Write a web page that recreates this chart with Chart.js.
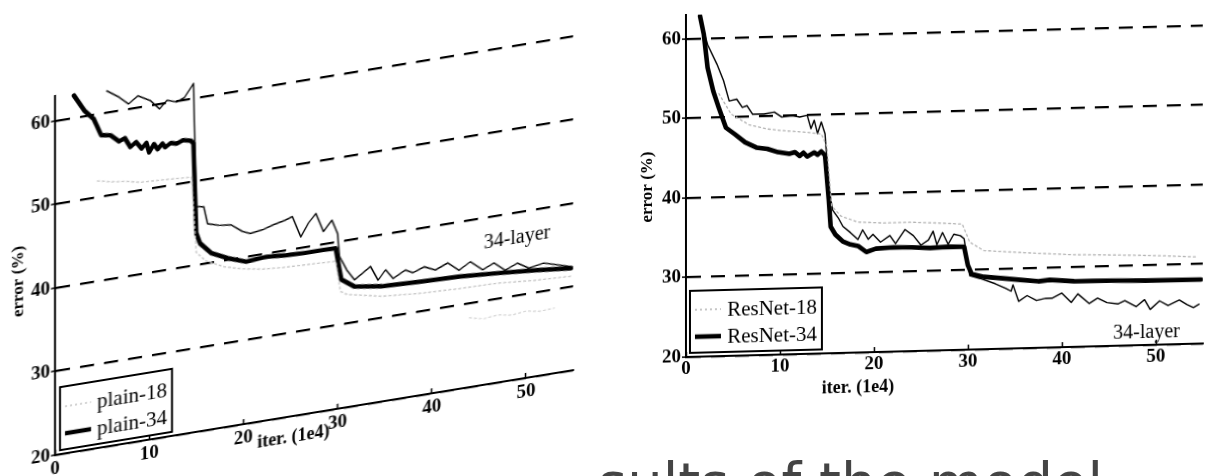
<!DOCTYPE html>
<html>
<head>
<meta charset="utf-8">
<script src="https://cdn.jsdelivr.net/npm/chart.js@4.4.1/dist/chart.umd.min.js"></script>
<style>
  html, body { margin: 0; padding: 0; background: #fff; width: 1215px; height: 476px; overflow: hidden; }
  /* the scanned left panel is sheared, the right one only a little */
  #plainChart { position: absolute; left: 0; top: 0; transform-origin: 55px 0; transform: skewY(-9.3deg); }
  #resChart { position: absolute; left: 600px; top: 0; transform-origin: 86px 0; transform: skewY(-1.5deg); }
  #caption { position: absolute; left: 598px; top: 455px; width: 617px; height: 21px; overflow: hidden;
             font: 56px 'DejaVu Sans', sans-serif; line-height: 56px; white-space: nowrap; color: #444; }
</style>
</head>
<body>
<canvas id="plainChart" width="600" height="500"></canvas>
<canvas id="resChart" width="615" height="420"></canvas>
<div id="caption"><span id="capText">results of the model</span></div>
<script>
// valeurs : [itération (1e4), erreur (%)]
const plain18Val = [[4.5,52.0],[6,51.6],[7.5,51.4],[9,51.0],[10.5,50.9],[12,50.8],[14.5,50.6],[15.0,41.5],[16,40.3],[18,39.2],
  [20,38.6],[22,38.2],[24,38.0],[26,37.9],[28,37.8],[29.8,37.7],[30.3,34.0],[31,33.5],[34.7,32.6],[38.8,32.2],[42.9,32.0],
  [47,31.9],[51,31.5],[54.8,31.3]];
const plain18Train = [[44,28.3],[45.5,27.9],[47,28.1],[48.5,27.8],[50,28.0],[51.5,27.7],[53,27.8]];
const plain34Train = [[5.5,62.6],[6.8,61.6],[7.8,60.6],[8.8,61.4],[10.1,60.6],[11.1,59.4],[11.9,60.3],[12.9,59.9],[13.75,60.3],
  [14.6,61.6],[14.7,61.8],[15.0,47.0],[15.8,46.8],[16.2,44.7],[17.4,44.3],[18.7,44.1],[19.9,43.1],[20.7,42.7],[22.0,42.9],
  [23.2,43.3],[24.4,43.6],[25.2,43.9],[26.1,41.3],[26.9,42.8],[27.7,43.8],[28.5,41.5],[29.4,42.7],[30.0,41.0],[30.2,38.2],
  [31.0,36.4],[31.8,35.1],[32.6,35.7],[33.5,36.4],[34.3,34.6],[35.1,35.7],[35.9,34.5],[37.2,35.3],[38.0,34.8],[39.2,35.3],
  [40.4,34.7],[41.7,35.3],[42.9,34.2],[44.1,35.0],[45.4,33.8],[46.6,34.4],[47.8,33.3],[49.1,33.9],[50.3,33.1],[51.9,33.4],
  [54.8,32.45]];
const plain34Val = [[2.0,62.7],[3.1,60.7],[4.1,59.5],[4.9,57.4],[5.9,57.2],[6.8,56.3],[7.4,56.6],[8.0,55.4],[8.6,55.9],
  [9.2,55.0],[9.7,55.6],[10.0,54.4],[10.5,55.3],[10.9,54.6],[11.4,55.2],[11.7,54.7],[12.3,55.1],[12.9,54.9],[13.6,55.2],
  [14.4,55.0],[14.7,54.6],[15.0,43.8],[15.4,42.5],[16.6,41.1],[18.3,40.2],[20.3,39.4],[22.4,39.6],[24.4,39.4],[26.5,39.3],
  [28.5,39.3],[29.8,39.25],[30.4,35.4],[31.8,34.3],[34.7,33.8],[38.8,33.6],[42.9,33.45],[47.0,33.1],[51.1,32.7],[54.8,32.25]];

const res18Val = [[3.5,53.0],[4.8,50.4],[6.7,49.0],[8.65,48.4],[10.6,48.1],[12.5,47.9],[14.4,47.6],[15.0,46.0],[15.5,38.5],
  [16.5,37.2],[18.3,36.4],[21,36.2],[24,36.2],[27,36.0],[29.4,35.8],[30.2,33.5],[31.7,32.4],[36,32.0],[41,31.6],[46,31.4],
  [50,31.2],[54.4,30.9]];
const res34Train = [[1.5,62.6],[2.3,59.2],[3.3,56.7],[4.0,54.6],[4.6,52.05],[5.4,52.25],[6.0,51.2],[6.5,51.4],[7.1,50.3],
  [8.3,50.3],[9.4,50.5],[10.2,49.85],[11.3,50.0],[12.1,49.8],[12.9,50.0],[13.3,48.3],[13.65,49.35],[14.0,47.65],[14.4,49.1],
  [14.8,47.6],[15.2,40.9],[15.6,38.0],[16.2,37.0],[16.7,35.9],[17.5,35.1],[18.3,34.2],[18.8,35.4],[19.4,34.2],[19.9,34.8],
  [20.7,33.8],[21.7,34.6],[22.3,33.55],[23.3,35.3],[24.2,34.5],[25.0,33.3],[25.8,33.9],[26.3,35.0],[26.7,33.3],[27.3,34.8],
  [27.9,33.3],[28.5,34.55],[29.2,34.35],[29.6,33.95],[30.2,29.3],[31.3,28.9],[32.9,28.2],[34.0,27.6],[34.6,27.2],[34.8,28.0],
  [35.4,25.9],[36.3,26.6],[37.3,25.95],[38.3,26.2],[39.0,26.2],[40.0,26.8],[41.0,25.6],[41.7,26.65],[42.9,25.4],[43.8,26.05],
  [44.8,25.45],[46.0,25.25],[46.7,25.65],[47.9,24.85],[48.8,25.7],[49.4,24.45],[50.4,25.5],[51.3,24.9],[52.5,25.55],
  [53.3,24.95],[54.0,24.55],[54.6,24.95]];
const res34Val = [[1.5,62.8],[1.9,60.5],[2.3,56.3],[2.9,53.35],[3.5,51.2],[4.25,48.7],[5.2,47.85],[6.3,46.8],[7.5,46.1],
  [8.65,45.9],[9.8,45.45],[11.0,45.2],[11.6,45.4],[12.1,44.9],[12.5,45.3],[12.9,44.8],[13.65,45.3],[14.0,45.0],[14.4,45.4],
  [14.8,44.9],[15.2,39.3],[15.4,35.9],[15.9,34.9],[16.7,34.0],[17.5,33.6],[18.3,33.4],[19.2,32.6],[20.2,33.0],[22.1,33.1],
  [24.0,33.05],[26.0,32.9],[27.9,33.0],[29.6,32.95],[30.0,30.6],[30.4,29.5],[31.7,29.1],[33.7,28.85],[35.6,28.6],[37.5,28.35],
  [38.7,28.5],[41.3,28.25],[45.2,28.2],[49.0,28.1],[54.8,28.05]];

const yMin = 20, yMax = 63, yStep = 10;
const xMin = 0, xMax = 55, xStep = 10;
const yTitle = 'error (%)';
const xTitle = 'iter. (1e4)';
const curveNote = '34-layer';

const serif = "'Liberation Serif', 'Times New Roman', serif";
const pts = arr => arr.map(p => ({ x: p[0], y: p[1] }));

// textes libres (titre de l'axe x, "34-layer") placés en coordonnées de données
const notesPlugin = {
  id: 'notes',
  afterDraw(chart, args, opts) {
    const { ctx, scales: { x, y } } = chart;
    ctx.save();
    ctx.fillStyle = '#000';
    ctx.textAlign = 'center';
    ctx.textBaseline = 'middle';
    (opts.items || []).forEach(n => {
      ctx.font = n.font;
      ctx.fillText(n.text, x.getPixelForValue(n.x), y.getPixelForValue(n.y));
    });
    ctx.restore();
  }
};

// légende encadrée en bas à gauche
const boxLegendPlugin = {
  id: 'boxLegend',
  afterDraw(chart, args, opts) {
    const { ctx, chartArea } = chart;
    const l = chartArea.left + opts.dx, r = l + opts.w;
    const b = chartArea.bottom - opts.gap, t = b - opts.h;
    ctx.save();
    ctx.fillStyle = '#fff';
    ctx.fillRect(l, t, r - l, b - t);
    ctx.strokeStyle = '#000';
    ctx.lineWidth = 2;
    ctx.strokeRect(l, t, r - l, b - t);
    ctx.font = '21px ' + serif;
    ctx.textAlign = 'right';
    ctx.textBaseline = 'middle';
    opts.rows.forEach((i, k) => {
      const ds = chart.data.datasets[i];
      const cy = b - (k === 0 ? 43 : 16);
      ctx.beginPath();
      ctx.strokeStyle = ds.borderColor;
      ctx.lineWidth = ds.borderWidth;
      ctx.setLineDash(ds.borderDash || []);
      ctx.moveTo(l + 5, cy);
      ctx.lineTo(l + 31, cy);
      ctx.stroke();
      ctx.setLineDash([]);
      ctx.fillStyle = '#000';
      ctx.fillText(ds.label, r - 5, cy + 1);
    });
    ctx.restore();
  }
};

function line(label, data, color, width, dash) {
  return {
    label: label, data: pts(data), borderColor: color, borderWidth: width, borderDash: dash || [],
    pointRadius: 0, tension: 0, fill: false, borderJoinStyle: 'round', borderCapStyle: 'round'
  };
}

function makeOptions(p) {
  return {
    responsive: false,
    animation: false,
    layout: { padding: p.padding },
    plugins: {
      legend: { display: false },
      tooltip: { enabled: false },
      notes: { items: p.notes },
      boxLegend: p.legend
    },
    scales: {
      x: {
        type: 'linear', min: xMin, max: xMax,
        afterFit: s => { s.height = p.xHeight; },
        ticks: { stepSize: xStep, includeBounds: false, color: '#000', padding: p.xPad, maxRotation: 0,
                 font: { family: serif, size: 19, weight: 'bold' } },
        grid: { drawOnChartArea: false, drawTicks: true, tickLength: -5, tickColor: '#000', tickWidth: 1.5 },
        border: { display: true, color: '#000', width: 2 }
      },
      y: {
        min: yMin, max: yMax,
        afterFit: s => { s.width = p.yWidth; },
        ticks: { stepSize: yStep, includeBounds: false, color: '#000', padding: 1,
                 font: { family: serif, size: 19, weight: 'bold' } },
        grid: { color: '#000', lineWidth: 2.2, tickLength: 4, tickColor: '#000', tickWidth: 1.5, tickBorderDash: [] },
        border: { display: true, color: '#000', width: 2, dash: [14, 10] },
        title: { display: true, text: yTitle, color: '#000', padding: { top: p.titlePad, bottom: 0 },
                 font: { family: serif, size: 17, weight: 'bold' } }
      }
    }
  };
}

new Chart(document.getElementById('plainChart'), {
  type: 'line',
  data: {
    datasets: [
      line('plain-18', plain18Val, '#c4c4c4', 1.3, [2, 3]),
      line('plain-18', plain18Train, '#d2d2d2', 1.2, [2, 3]),
      line('plain-34', plain34Train, '#000', 1.4),
      line('plain-34', plain34Val, '#000', 4.4)
    ]
  },
  options: makeOptions({
    padding: { top: 96, right: 27, bottom: 0, left: 0 },
    xHeight: 45, yWidth: 55, xPad: 8, titlePad: 8,
    notes: [
      { text: curveNote, x: 49.05, y: 36.9, font: '20px ' + serif },
      { text: xTitle, x: 25.3, y: 17.4, font: 'bold 18px ' + serif }
    ],
    legend: { dx: 5, w: 112, h: 63, gap: 4, rows: [0, 3] }
  }),
  plugins: [notesPlugin, boxLegendPlugin]
});

new Chart(document.getElementById('resChart'), {
  type: 'line',
  data: {
    datasets: [
      line('ResNet-18', res18Val, '#b4b4b4', 1.3, [2, 3]),
      line('ResNet-34', res34Train, '#000', 1.4),
      line('ResNet-34', res34Val, '#000', 4.6)
    ]
  },
  options: makeOptions({
    padding: { top: 15, right: 12, bottom: 0, left: 0 },
    xHeight: 63, yWidth: 86, xPad: 6, titlePad: 37,
    notes: [
      { text: curveNote, x: 49.0, y: 21.5, font: '20px ' + serif },
      { text: xTitle, x: 18.3, y: 15.6, font: 'bold 18px ' + serif }
    ],
    legend: { dx: 4, w: 132, h: 62, gap: 4, rows: [0, 2] }
  }),
  plugins: [notesPlugin, boxLegendPlugin]
});

// le début de la légende de la figure est coupé à gauche
const m = document.createElement('canvas').getContext('2d');
m.font = "56px 'DejaVu Sans'";
document.getElementById('capText').style.marginLeft = (-m.measureText('re').width) + 'px';
</script>
</body>
</html>
